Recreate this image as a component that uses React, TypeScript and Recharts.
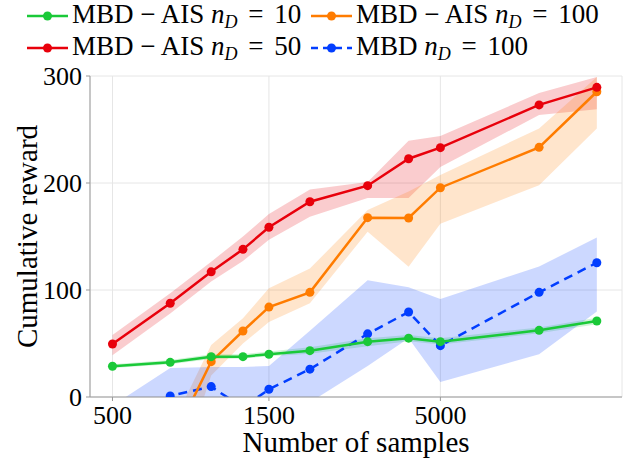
import { ComposedChart, Area, Line, XAxis, YAxis, CartesianGrid } from 'recharts'

const samples = [500, 750, 1000, 1250, 1500, 2000, 3000, 4000, 5000, 10000, 15000]

// MBD-AIS n_D = 10
const ais10Mean = [28.7, 32.4, 37.7, 37.7, 40, 43.3, 51.7, 55, 51.7, 62.3, 71]
const ais10Lo = [27, 30.5, 35.5, 36, 38, 40.5, 47.5, 52, 49, 59.5, 68]
const ais10Hi = [30.5, 34.5, 40, 40, 42.5, 46.5, 55, 58, 55, 65, 74]

// MBD-AIS n_D = 50
const ais50Mean = [49.5, 87.6, 117, 138, 158.6, 182.5, 197.5, 222.7, 233, 273, 289.4]
const ais50Lo = [39, 78, 108, 127, 147, 168.5, 186, 186, 215, 263.5, 269]
const ais50Hi = [58, 97, 126.5, 150, 171, 194, 201, 239.5, 244, 284, 299]

// MBD-AIS n_D = 100
const ais100Mean = [-90, -45, 33, 61.7, 84, 97.8, 167.6, 167.3, 195.6, 233.3, 285.3]
const ais100Lo = [-130, -95, 20, 50, 70, 87.6, 154.5, 121.8, 162, 198, 251]
const ais100Hi = [-60, -30, 48.6, 73.5, 101.6, 120, 174.8, 192, 207.5, 251, 299]

// MBD n_D = 100
const mbdMean = [-30, 1, 9.7, -10, 7.2, 26, 59, 79.4, 48, 97.8, 125.5]
const mbdLo = [-60, -45, -40, -40, -30, -5, 29, 55, 14, 40, 80]
const mbdHi = [-8, 27, 28, 28, 29, 62, 109, 102.5, 91.6, 122, 149]

const xTicks = [500, 1500, 5000]
const yTicks = [0, 100, 200, 300]

const GREEN = '#1ac938'
const ORANGE = '#ff7c00'
const RED = '#e8000b'
const BLUE = '#023eff'
const FONT = '"Liberation Serif", "Times New Roman", Times, "DejaVu Serif", serif'

const data = samples.map((x, i) => ({
  x,
  g: ais10Mean[i],
  gBand: [ais10Lo[i], ais10Hi[i]],
  r: ais50Mean[i],
  rBand: [ais50Lo[i], ais50Hi[i]],
  o: ais100Mean[i],
  oBand: [ais100Lo[i], ais100Hi[i]],
  b: mbdMean[i],
  bBand: [mbdLo[i], mbdHi[i]],
}))

const legendItems = [
  { color: GREEN, pre: 'MBD − AIS', post: '10', dashed: false, left: 26, top: 16 },
  { color: RED, pre: 'MBD − AIS', post: '50', dashed: false, left: 26, top: 48 },
  { color: ORANGE, pre: 'MBD − AIS', post: '100', dashed: false, left: 310, top: 16 },
  { color: BLUE, pre: 'MBD', post: '100', dashed: true, left: 310, top: 48 },
]

function LegendEntry({ item }: { item: (typeof legendItems)[number] }) {
  return (
    <div
      style={{
        position: 'absolute',
        left: item.left,
        top: item.top - 16,
        height: 32,
        display: 'flex',
        alignItems: 'center',
        fontFamily: FONT,
        fontSize: 27,
        lineHeight: '32px',
        whiteSpace: 'nowrap',
        color: '#000',
      }}
    >
      <svg width={43} height={32} style={{ marginRight: 3 }}>
        <line
          x1={1}
          x2={42}
          y1={16}
          y2={16}
          stroke={item.color}
          strokeWidth={2.5}
          strokeDasharray={item.dashed ? '7 5' : undefined}
        />
        <circle cx={21.5} cy={16} r={4.5} fill={item.color} />
      </svg>
      <span style={{ position: 'relative', top: -1 }}>
        {item.pre} <i>n</i>
        <span style={{ fontSize: 18, fontStyle: 'italic', position: 'relative', top: 5 }}>D</span>
        <span style={{ margin: '0 4px' }}> = </span>
        {item.post}
      </span>
    </div>
  )
}

export default function App() {
  const tickStyle = { fontFamily: FONT, fontSize: 26, fill: '#000' }
  return (
    <div style={{ position: 'absolute', left: 0, top: 0, width: 635, height: 460, background: '#fff' }}>
      <ComposedChart
        width={635}
        height={460}
        data={data}
        margin={{ top: 76, right: 13, bottom: 0, left: 0 }}
      >
        <CartesianGrid stroke="#e6e6e6" strokeWidth={1} />
        <XAxis
          dataKey="x"
          type="number"
          scale="log"
          domain={[427, 17900]}
          allowDataOverflow
          ticks={xTicks}
          height={63}
          tick={tickStyle}
          tickSize={4}
          tickMargin={5}
          stroke="#999"
          label={{
            value: 'Number of samples',
            position: 'insideBottom',
            offset: 8,
            style: { fontFamily: FONT, fontSize: 29, fill: '#000' },
          }}
        />
        <XAxis xAxisId="top" orientation="top" type="number" height={0} tick={false} tickLine={false} stroke="#999" />
        <YAxis
          type="number"
          domain={[0, 300]}
          allowDataOverflow
          ticks={yTicks}
          width={90}
          tick={tickStyle}
          tickSize={4}
          tickMargin={4}
          stroke="#999"
          label={({ viewBox }: any) => {
            const cx = viewBox.x + 27
            const cy = viewBox.y + viewBox.height / 2
            return (
              <text
                x={cx}
                y={cy}
                transform={`rotate(-90 ${cx} ${cy})`}
                textAnchor="middle"
                dominantBaseline="central"
                style={{ fontFamily: FONT, fontSize: 29, fill: '#000' }}
              >
                Cumulative reward
              </text>
            )
          }}
        />
        <YAxis yAxisId="right" orientation="right" width={0} tick={false} tickLine={false} stroke="#999" />

        <Area type="linear" dataKey="gBand" stroke="none" fill={GREEN} fillOpacity={0.2} isAnimationActive={false} />
        <Area type="linear" dataKey="rBand" stroke="none" fill={RED} fillOpacity={0.2} isAnimationActive={false} />
        <Area type="linear" dataKey="oBand" stroke="none" fill={ORANGE} fillOpacity={0.2} isAnimationActive={false} />
        <Area type="linear" dataKey="bBand" stroke="none" fill={BLUE} fillOpacity={0.2} isAnimationActive={false} />

        <Line
          type="linear"
          dataKey="b"
          stroke={BLUE}
          strokeWidth={2.5}
          strokeDasharray="9 6"
          dot={{ r: 4.5, fill: BLUE, stroke: BLUE, strokeWidth: 0, strokeDasharray: '' }}
          activeDot={false}
          isAnimationActive={false}
        />
        <Line
          type="linear"
          dataKey="o"
          stroke={ORANGE}
          strokeWidth={2.5}
          dot={{ r: 4.5, fill: ORANGE, stroke: ORANGE, strokeWidth: 0 }}
          activeDot={false}
          isAnimationActive={false}
        />
        <Line
          type="linear"
          dataKey="r"
          stroke={RED}
          strokeWidth={2.5}
          dot={{ r: 4.5, fill: RED, stroke: RED, strokeWidth: 0 }}
          activeDot={false}
          isAnimationActive={false}
        />
        <Line
          type="linear"
          dataKey="g"
          stroke={GREEN}
          strokeWidth={2.5}
          dot={{ r: 4.5, fill: GREEN, stroke: GREEN, strokeWidth: 0 }}
          activeDot={false}
          isAnimationActive={false}
        />
      </ComposedChart>
      {legendItems.map((item) => (
        <LegendEntry key={item.color} item={item} />
      ))}
    </div>
  )
}
